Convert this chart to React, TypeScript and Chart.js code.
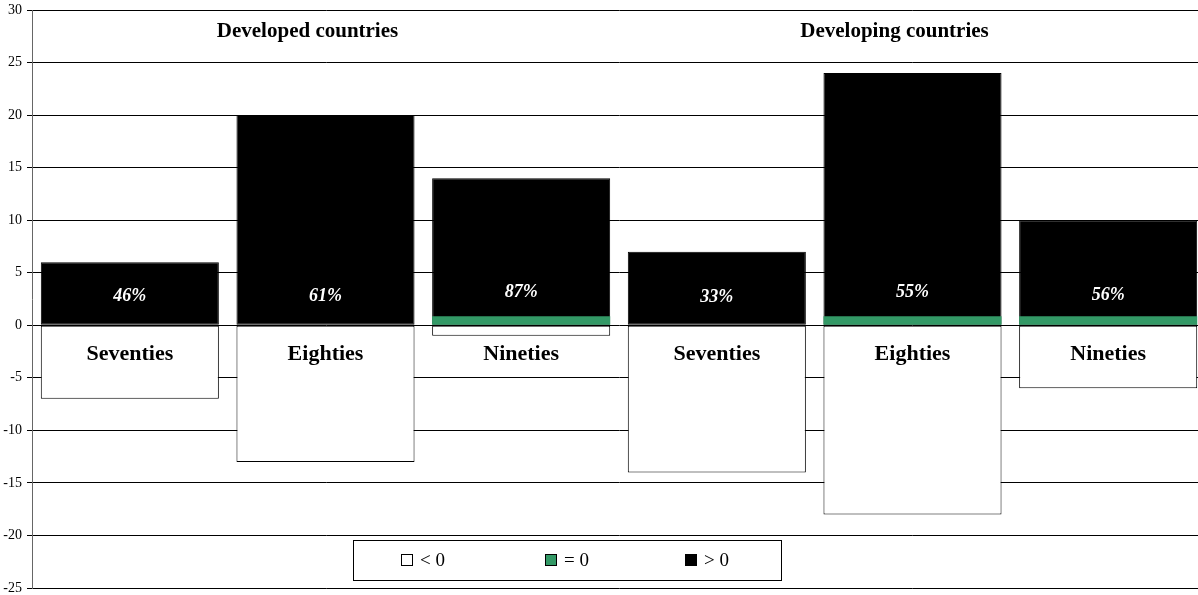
import React, { useEffect, useRef } from "react";
import { Chart, registerables } from "chart.js";

Chart.register(...registerables);

const categories = ["Seventies", "Eighties", "Nineties", "Seventies", "Eighties", "Nineties"];
const negativeValues = [-7, -13, -1, -14, -18, -6];
const zeroValues = [0, 0, 0.85, 0, 0.85, 0.85];
const positiveValues = [6, 20, 14, 7, 24, 10];
const shareLabels = ["46%", "61%", "87%", "33%", "55%", "56%"];
const shareLabelY = [2.75, 2.75, 3.1, 2.65, 3.15, 2.85];
const groupTitles = ["Developed countries", "Developing countries"];
const groupTitleIndex = [1, 4];
const legendLabels = ["< 0", "= 0", "> 0"];
const legendColors = ["#ffffff", "#339966", "#000000"];
const yTicks = { min: -25, max: 30, step: 5 };

const FONT = "'Liberation Serif', 'Times New Roman', serif";
const CANVAS_OFFSET = -2;

const overlayPlugin = {
  id: "overlay",
  afterDatasetsDraw(chart: any) {
    const { ctx, chartArea, scales } = chart;
    const x = scales.x;
    const y = scales.y;
    ctx.save();
    ctx.fillStyle = "#000";
    ctx.textAlign = "center";
    ctx.textBaseline = "middle";
    ctx.font = `bold 22px ${FONT}`;
    categories.forEach((c, i) => {
      ctx.fillText(c, x.getPixelForValue(i), y.getPixelForValue(-2.8));
    });
    ctx.fillStyle = "#fff";
    ctx.font = `italic bold 18px ${FONT}`;
    shareLabels.forEach((s, i) => {
      ctx.fillText(s, x.getPixelForValue(i), y.getPixelForValue(shareLabelY[i]));
    });
    ctx.fillStyle = "#000";
    ctx.font = `bold 21px ${FONT}`;
    groupTitles.forEach((t, i) => {
      ctx.fillText(t, x.getPixelForValue(groupTitleIndex[i]) - 18, y.getPixelForValue(27.9));
    });
    // legend box
    const lx = chartArea.left + 321;
    const ly = 540 - CANVAS_OFFSET;
    const lw = 428;
    const lh = 40;
    ctx.fillStyle = "#fff";
    ctx.fillRect(lx, ly, lw, lh);
    ctx.strokeStyle = "#000";
    ctx.lineWidth = 1;
    ctx.strokeRect(lx + 0.5, ly + 0.5, lw, lh);
    const itemX = [lx + 48, lx + 192, lx + 332];
    ctx.font = `19px ${FONT}`;
    ctx.textAlign = "left";
    legendLabels.forEach((l, i) => {
      const sx = itemX[i];
      const sy = ly + 14;
      ctx.fillStyle = legendColors[i];
      ctx.fillRect(sx, sy, 12, 12);
      ctx.strokeStyle = "#000";
      ctx.strokeRect(sx + 0.5, sy + 0.5, 11, 11);
      ctx.fillStyle = "#000";
      ctx.fillText(l, sx + 19, sy + 7);
    });
    ctx.restore();
  },
};

export default function App() {
  const ref = useRef<HTMLCanvasElement>(null);
  useEffect(() => {
    document.body.style.margin = "0";
    const chart = new Chart(ref.current!, {
      type: "bar",
      data: {
        labels: categories,
        datasets: [
          {
            label: "= 0",
            data: zeroValues,
            backgroundColor: "#339966",
            borderWidth: 0,
          },
          {
            label: "> 0",
            data: positiveValues,
            backgroundColor: "#000000",
            borderColor: "#000000",
            borderWidth: 1,
            borderSkipped: false,
          },
          {
            label: "< 0",
            data: negativeValues,
            backgroundColor: "#ffffff",
            borderColor: "#000000",
            borderWidth: 1,
            borderSkipped: false,
          },
        ],
      },
      options: {
        responsive: false,
        animation: false,
        layout: { padding: 0 },
        datasets: { bar: { categoryPercentage: 1, barPercentage: 0.91 } },
        plugins: { legend: { display: false }, tooltip: { enabled: false } },
        scales: {
          x: { stacked: true, display: false },
          y: {
            stacked: false,
            min: yTicks.min,
            max: yTicks.max,
            afterFit(scale: any) {
              scale.width = 32;
            },
            ticks: {
              stepSize: yTicks.step,
              color: "#000",
              padding: 5,
              font: { family: FONT, size: 14, lineHeight: 1 },
            },
            grid: { color: "#000", tickColor: "#000", tickLength: 5, lineWidth: 1 },
            border: { display: true, color: "#666" },
          },
        },
      },
      plugins: [overlayPlugin],
    });
    return () => chart.destroy();
  }, []);
  return (
    <div style={{ width: 1198, height: 595, overflow: "hidden" }}>
      <canvas ref={ref} width={1206} height={602} style={{ display: "block", marginTop: CANVAS_OFFSET }} />
    </div>
  );
}
